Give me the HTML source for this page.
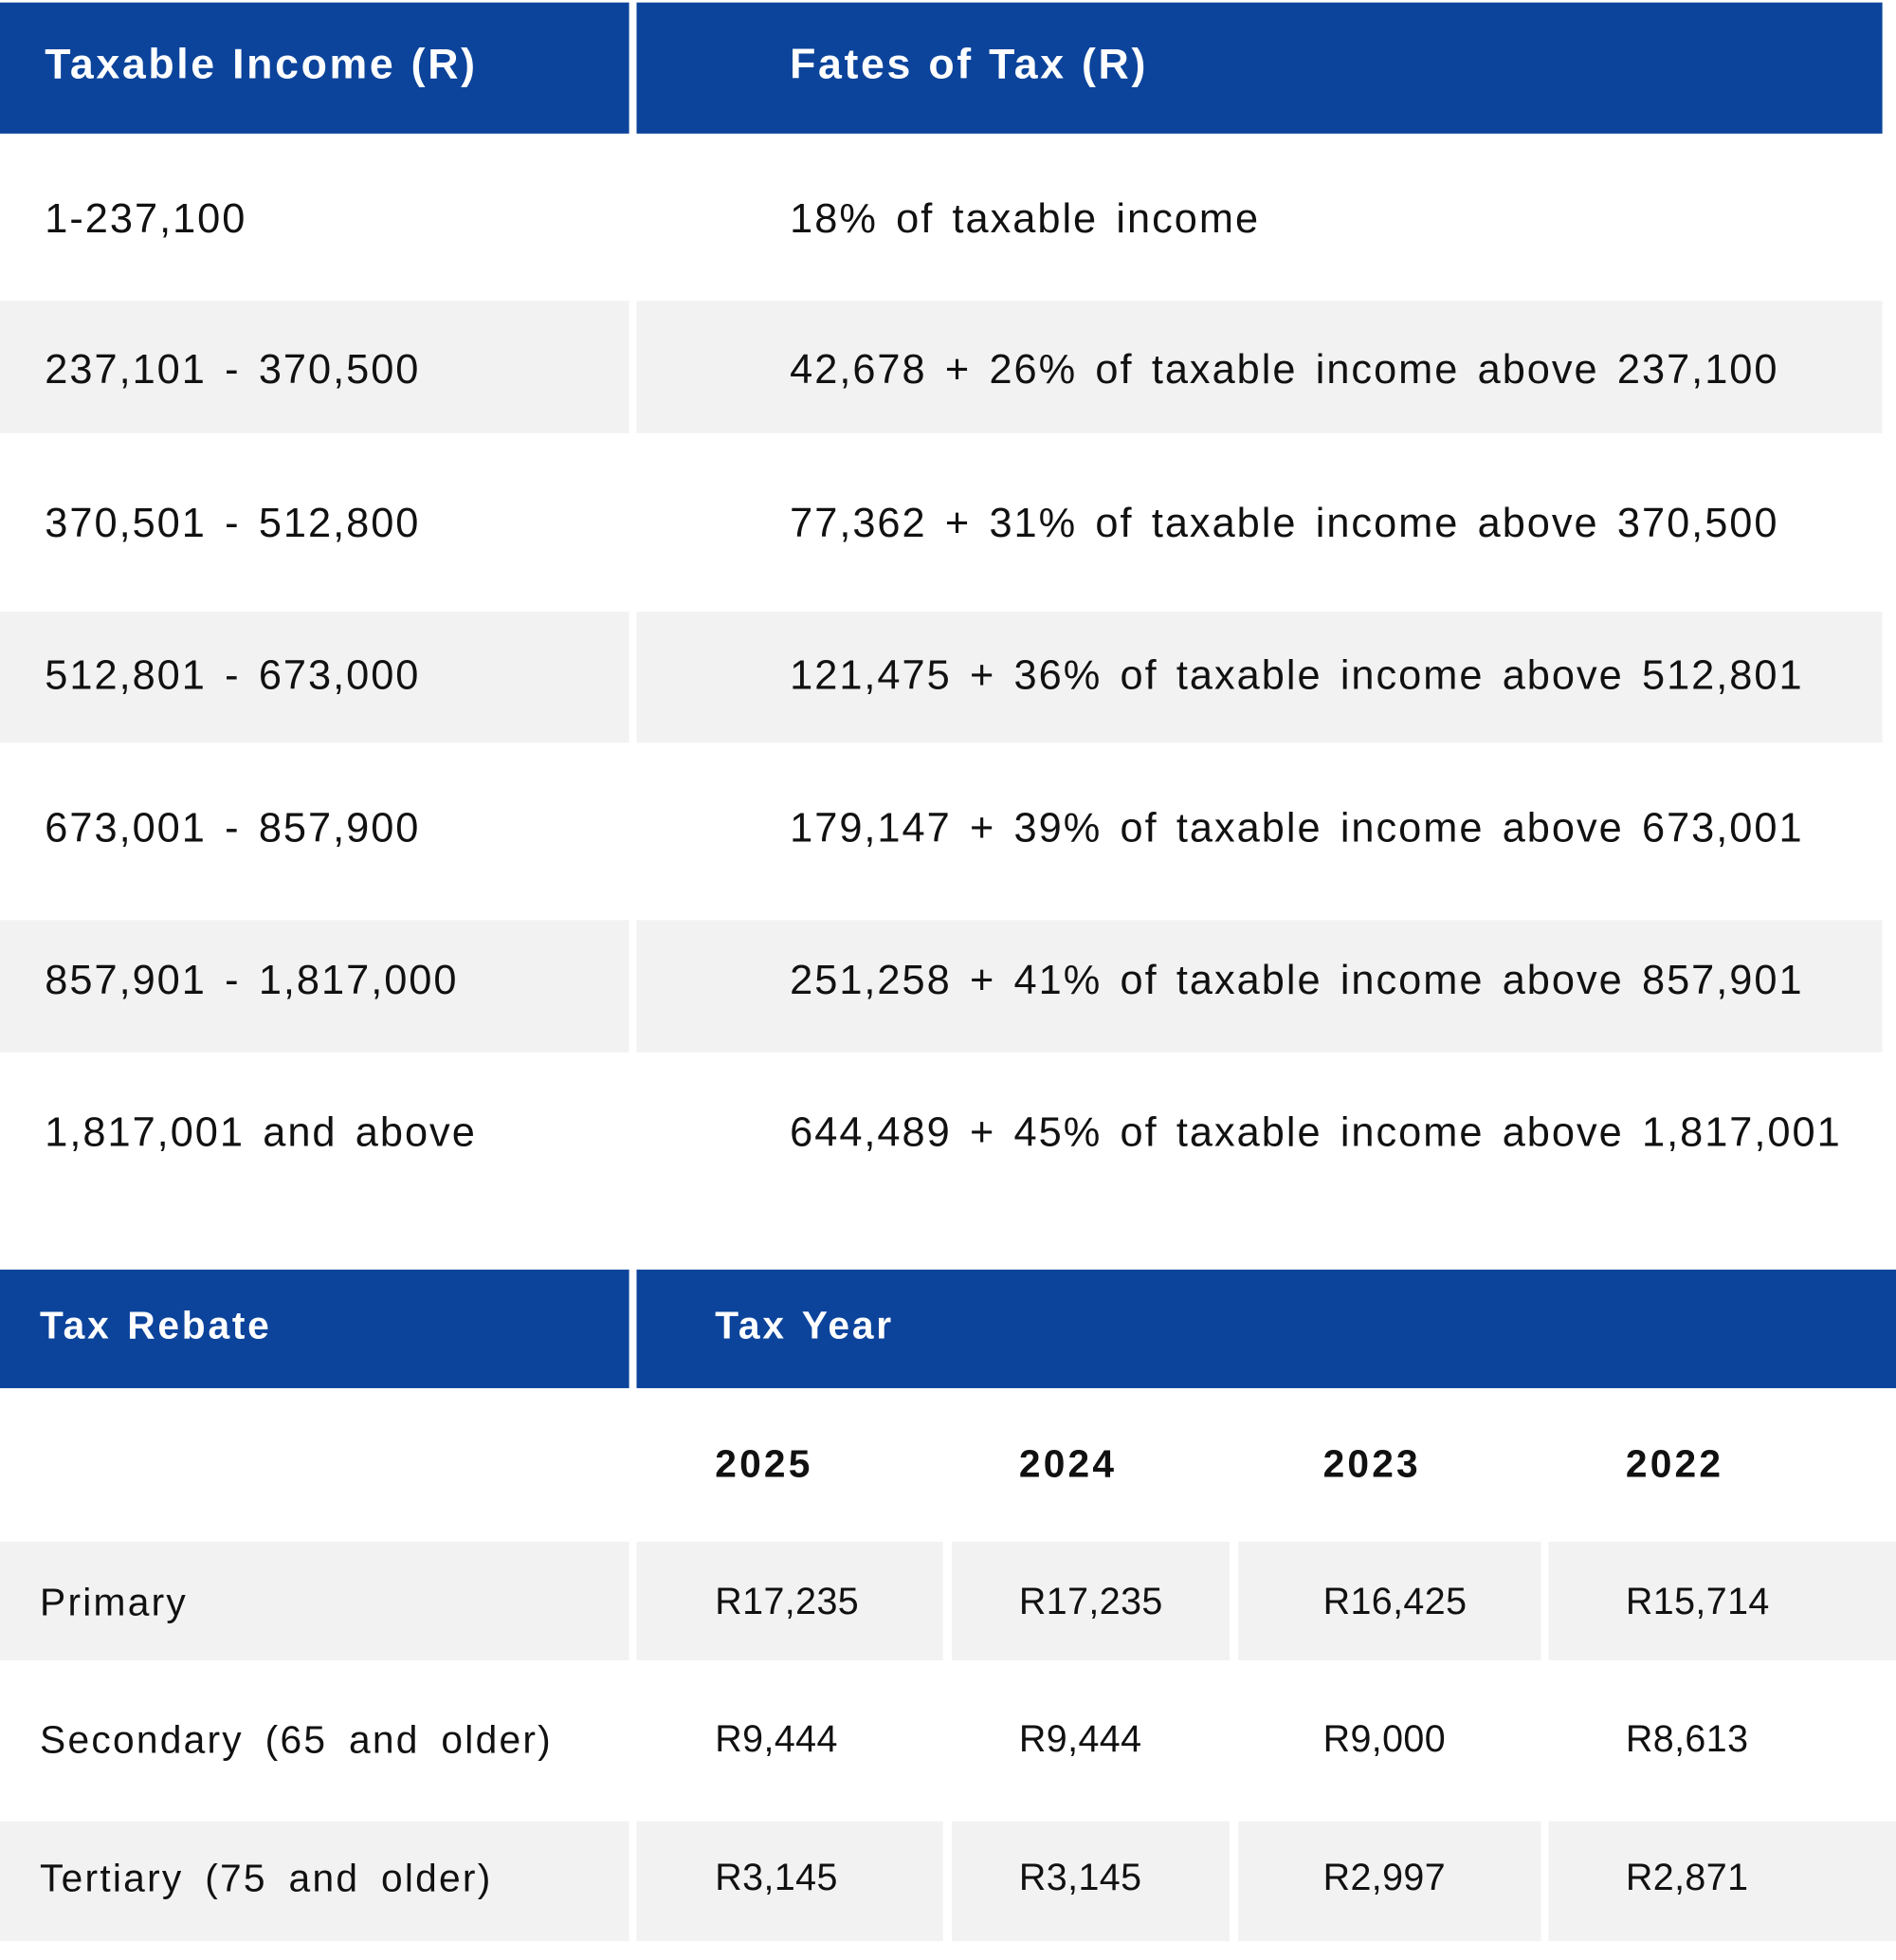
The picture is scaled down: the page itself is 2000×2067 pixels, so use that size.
<!DOCTYPE html>
<html><head><meta charset="utf-8"><style>
html,body{margin:0;padding:0;background:#fff;}
body{width:2000px;height:2061px;overflow:hidden;position:relative;}
#w{position:absolute;left:0;top:0;width:1522px;height:1570px;transform:scale(1.3141,1.3165);transform-origin:0 0;font-family:"Liberation Sans",sans-serif;color:#111;}
.b{position:absolute;}
.blue{background:#0c449c;}
.g{background:#f2f2f2;}
.t{position:absolute;white-space:nowrap;font-size:33px;transform:translateY(-50%);letter-spacing:1.5px;word-spacing:4px;}
.h{color:#fff;font-weight:bold;font-size:34px;letter-spacing:2px;word-spacing:1px;}
.h2{color:#fff;font-weight:bold;font-size:31px;letter-spacing:2.1px;word-spacing:2px;}
.y{font-weight:bold;font-size:31px;letter-spacing:2.4px;}
.s{font-size:30px;letter-spacing:0.3px;word-spacing:0;}
.l{font-size:31px;letter-spacing:1.7px;word-spacing:7px;}
</style></head><body><div id="w">
<div class="b blue" style="left:0;top:2px;width:505px;height:105px"></div>
<div class="b blue" style="left:511px;top:2px;width:1000px;height:105px"></div>
<div class="t h" style="left:36px;top:52px">Taxable Income (R)</div>
<div class="t h" style="left:634px;top:52px">Fates of Tax (R)</div>

<div class="b g" style="left:0;top:241px;width:505px;height:106px"></div>
<div class="b g" style="left:511px;top:241px;width:1000px;height:106px"></div>
<div class="b g" style="left:0;top:490px;width:505px;height:105px"></div>
<div class="b g" style="left:511px;top:490px;width:1000px;height:105px"></div>
<div class="b g" style="left:0;top:737px;width:505px;height:106px"></div>
<div class="b g" style="left:511px;top:737px;width:1000px;height:106px"></div>

<div class="t" style="left:36px;top:175px">1-237,100</div>
<div class="t" style="left:634px;top:175px">18% of taxable income</div>
<div class="t" style="left:36px;top:296px">237,101 - 370,500</div>
<div class="t" style="left:634px;top:296px">42,678 + 26% of taxable income above 237,100</div>
<div class="t" style="left:36px;top:419px">370,501 - 512,800</div>
<div class="t" style="left:634px;top:419px">77,362 + 31% of taxable income above 370,500</div>
<div class="t" style="left:36px;top:541px">512,801 - 673,000</div>
<div class="t" style="left:634px;top:541px">121,475 + 36% of taxable income above 512,801</div>
<div class="t" style="left:36px;top:663px">673,001 - 857,900</div>
<div class="t" style="left:634px;top:663px">179,147 + 39% of taxable income above 673,001</div>
<div class="t" style="left:36px;top:785px">857,901 - 1,817,000</div>
<div class="t" style="left:634px;top:785px">251,258 + 41% of taxable income above 857,901</div>
<div class="t" style="left:36px;top:907px">1,817,001 and above</div>
<div class="t" style="left:634px;top:907px">644,489 + 45% of taxable income above 1,817,001</div>

<div class="b blue" style="left:0;top:1017px;width:505px;height:95px"></div>
<div class="b blue" style="left:511px;top:1017px;width:1011px;height:95px"></div>
<div class="t h2" style="left:32px;top:1062px">Tax Rebate</div>
<div class="t h2" style="left:574px;top:1062px">Tax Year</div>

<div class="t y" style="left:574px;top:1173px">2025</div>
<div class="t y" style="left:818px;top:1173px">2024</div>
<div class="t y" style="left:1062px;top:1173px">2023</div>
<div class="t y" style="left:1305px;top:1173px">2022</div>

<div class="b g" style="left:0;top:1235px;width:505px;height:95px"></div>
<div class="b g" style="left:511px;top:1235px;width:246px;height:95px"></div>
<div class="b g" style="left:764px;top:1235px;width:223px;height:95px"></div>
<div class="b g" style="left:994px;top:1235px;width:243px;height:95px"></div>
<div class="b g" style="left:1243px;top:1235px;width:279px;height:95px"></div>
<div class="b g" style="left:0;top:1459px;width:505px;height:96px"></div>
<div class="b g" style="left:511px;top:1459px;width:246px;height:96px"></div>
<div class="b g" style="left:764px;top:1459px;width:223px;height:96px"></div>
<div class="b g" style="left:994px;top:1459px;width:243px;height:96px"></div>
<div class="b g" style="left:1243px;top:1459px;width:279px;height:96px"></div>

<div class="t l" style="left:32px;top:1284px">Primary</div>
<div class="t s" style="left:574px;top:1284px">R17,235</div>
<div class="t s" style="left:818px;top:1284px">R17,235</div>
<div class="t s" style="left:1062px;top:1284px">R16,425</div>
<div class="t s" style="left:1305px;top:1284px">R15,714</div>

<div class="t l" style="left:32px;top:1394px">Secondary (65 and older)</div>
<div class="t s" style="left:574px;top:1394px">R9,444</div>
<div class="t s" style="left:818px;top:1394px">R9,444</div>
<div class="t s" style="left:1062px;top:1394px">R9,000</div>
<div class="t s" style="left:1305px;top:1394px">R8,613</div>

<div class="t l" style="left:32px;top:1505px">Tertiary (75 and older)</div>
<div class="t s" style="left:574px;top:1505px">R3,145</div>
<div class="t s" style="left:818px;top:1505px">R3,145</div>
<div class="t s" style="left:1062px;top:1505px">R2,997</div>
<div class="t s" style="left:1305px;top:1505px">R2,871</div>
</div></body></html>
